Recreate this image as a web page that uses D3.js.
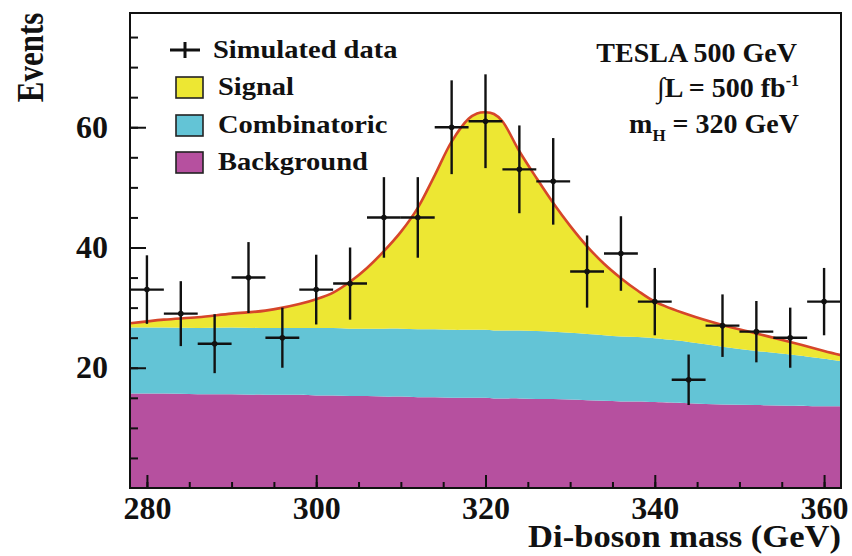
<!DOCTYPE html>
<html>
<head>
<meta charset="utf-8">
<script src="https://cdn.jsdelivr.net/npm/d3@7"></script>
<style>
  html, body { margin: 0; padding: 0; background: #ffffff; }
  svg { display: block; }
  text { font-family: "Liberation Serif", "Times New Roman", serif; font-weight: bold; fill: #111; }
</style>
</head>
<body>
<svg id="chart" width="852" height="556"></svg>
<script>
// Fitted components, stacked bottom to top (events per 4 GeV bin)
const massGrid = [278,282,286,290,294,298,300,302,304,306,308,310,312,314,316,318,319,320,321,322,324,326,328,330,332,334,336,338,340,344,348,352,356,360,362];
const background = [15.7,15.7,15.6,15.6,15.5,15.5,15.4,15.4,15.3,15.3,15.2,15.2,15.1,15.1,15.0,15.0,15.0,15.0,14.9,14.9,14.9,14.8,14.8,14.7,14.6,14.5,14.4,14.4,14.3,14.1,13.9,13.8,13.7,13.6,13.6];
const combinatoric = [11.0,11.0,11.0,11.1,11.1,11.1,11.2,11.2,11.2,11.2,11.3,11.3,11.3,11.3,11.3,11.3,11.3,11.3,11.3,11.3,11.3,11.3,11.2,11.1,11.0,10.9,10.8,10.7,10.6,10.2,9.6,9.0,8.5,7.9,7.5];
const signal = [0.7,1.3,1.8,2.3,2.9,4.0,4.8,5.9,7.8,10.1,12.9,16.1,20.2,25.6,31.3,35.1,36.0,36.2,36.0,34.8,29.8,25.5,21.4,17.8,14.6,11.9,9.7,7.7,6.1,4.5,3.6,2.9,2.1,1.3,1.0];

// Simulated data: bin centres, counts and statistical errors
const dataMass = [280,284,288,292,296,300,304,308,312,316,320,324,328,332,336,340,344,348,352,356,360];
const dataEvents = [33,29,24,35,25,33,34,45,45,60,61,53,51,36,39,31,18,27,26,25,31];
const dataError = [5.7,5.4,4.9,5.9,5.0,5.8,6.0,6.7,6.7,7.8,7.8,7.3,7.2,6.0,6.2,5.6,4.2,5.2,5.1,5.0,5.6];
const binHalfWidth = 2;

const xMajorTicks = [280,300,320,340,360];
const yMajorTicks = [20,40,60];
const components = ["background","combinatoric","signal"];
const legendLabels = ["Simulated data","Signal","Combinatoric","Background"];
const colors = { background: "#b6509f", combinatoric: "#63c4d6", signal: "#ede733", fit: "#d6462a" };

const svg = d3.select("#chart");
const L = 130, R = 841, T = 13, B = 488;

const x = d3.scaleLinear().domain([278, 362]).range([L, R]);
const y = d3.scaleLinear().domain([0, 79]).range([B, T]);

const rows = massGrid.map((m, i) => ({ mass: m, background: background[i], combinatoric: combinatoric[i], signal: signal[i] }));
const stacked = d3.stack().keys(components)(rows);

svg.append("defs").append("clipPath").attr("id", "plotclip")
  .append("rect").attr("x", L).attr("y", T).attr("width", R - L).attr("height", B - T);

const plot = svg.append("g").attr("clip-path", "url(#plotclip)");

const area = d3.area()
  .x(d => x(d.data.mass))
  .y0(d => y(d[0]))
  .y1(d => y(d[1]))
  .curve(d3.curveCatmullRom);

plot.selectAll("path.layer").data(stacked).join("path")
  .attr("class", "layer")
  .attr("d", area)
  .attr("fill", d => colors[d.key]);

// total fit curve
const totalLayer = stacked[stacked.length - 1];
plot.append("path")
  .attr("d", d3.line().x(d => x(d.data.mass)).y(d => y(d[1])).curve(d3.curveCatmullRom)(totalLayer))
  .attr("fill", "none").attr("stroke", colors.fit).attr("stroke-width", 2.6);

// data points with error bars
const pts = dataMass.map((m, i) => ({ m, v: dataEvents[i], e: dataError[i] }));
const dp = svg.append("g").attr("stroke", "#111").attr("stroke-width", 2.4);
dp.selectAll("line.v").data(pts).join("line").attr("class", "v")
  .attr("x1", d => x(d.m)).attr("x2", d => x(d.m))
  .attr("y1", d => y(d.v - d.e)).attr("y2", d => y(d.v + d.e));
dp.selectAll("line.h").data(pts).join("line").attr("class", "h")
  .attr("x1", d => x(d.m - binHalfWidth)).attr("x2", d => x(d.m + binHalfWidth))
  .attr("y1", d => y(d.v)).attr("y2", d => y(d.v));
svg.append("g").selectAll("circle").data(pts).join("circle")
  .attr("cx", d => x(d.m)).attr("cy", d => y(d.v)).attr("r", 2.8).attr("fill", "#111");

// axes (ticks pointing inward)
const xMinor = d3.range(280, 361, 5);
const yMinor = d3.range(5, 79, 5);
const ax = svg.append("g").attr("transform", `translate(0,${B})`);
ax.call(d3.axisBottom(x).tickValues(xMinor).tickSize(-6).tickFormat(""));
const axM = svg.append("g").attr("transform", `translate(0,${B})`);
axM.call(d3.axisBottom(x).tickValues(xMajorTicks).tickSize(-13).tickPadding(8).tickFormat(d3.format("d")));
const ay = svg.append("g").attr("transform", `translate(${L},0)`);
ay.call(d3.axisLeft(y).tickValues(yMinor).tickSize(-8).tickFormat(""));
const ayM = svg.append("g").attr("transform", `translate(${L},0)`);
ayM.call(d3.axisLeft(y).tickValues(yMajorTicks).tickSize(-16).tickPadding(22).tickFormat(d3.format("d")));
svg.selectAll(".domain").remove();
svg.selectAll(".tick line").attr("stroke", "#111").attr("stroke-width", 2);
axM.selectAll("text").attr("font-size", 32).attr("font-family", "Liberation Serif").attr("font-weight", "bold").attr("fill", "#111");
ayM.selectAll("text").attr("font-size", 32).attr("font-family", "Liberation Serif").attr("font-weight", "bold").attr("fill", "#111");

// frame
svg.append("rect").attr("x", L).attr("y", T).attr("width", R - L).attr("height", B - T)
  .attr("fill", "none").attr("stroke", "#111").attr("stroke-width", 2);

// axis titles
svg.append("text").attr("text-anchor", "end").attr("font-size", 32)
  .attr("transform", `translate(${R},547) scale(1.08,1)`).text("Di-boson mass (GeV)");
svg.append("text").attr("text-anchor", "middle").attr("font-size", 31)
  .attr("transform", "translate(43,57.5) scale(1.2,1) rotate(-90)").text("Events");

// legend
const lg = svg.append("g");
lg.append("g").attr("stroke", "#111").attr("stroke-width", 3)
  .call(g => {
    g.append("line").attr("x1", 170).attr("x2", 200).attr("y1", 50).attr("y2", 50);
    g.append("line").attr("x1", 185).attr("x2", 185).attr("y1", 42).attr("y2", 58);
  });
const swatchKeys = ["signal", "combinatoric", "background"];
const swatchY = [77, 115, 152];
swatchKeys.forEach((k, i) => {
  lg.append("rect").attr("x", 176).attr("y", swatchY[i]).attr("width", 27).attr("height", 21)
    .attr("fill", colors[k]).attr("stroke", "#222").attr("stroke-width", 1.6);
});
const legendX = [213, 218, 218, 218];
const legendBase = [58, 95, 133, 170];
legendLabels.forEach((t, i) => {
  lg.append("text").attr("font-size", 25)
    .attr("transform", `translate(${legendX[i]},${legendBase[i]}) scale(1.14,1)`).text(t);
});

// run info
const info = svg.append("g").attr("text-anchor", "end");
info.append("text").attr("font-size", 28).attr("transform", "translate(797,62)").text("TESLA 500 GeV");
const lum = info.append("text").attr("font-size", 28).attr("transform", "translate(799,97)");
lum.append("tspan").text("\u222BL = 500 fb");
lum.append("tspan").attr("font-size", 16).attr("dy", -11).text("-1");
const mh = info.append("text").attr("font-size", 28).attr("transform", "translate(799,133)");
mh.append("tspan").text("m");
mh.append("tspan").attr("font-size", 17).attr("dy", 8).text("H");
mh.append("tspan").attr("dy", -8).text(" = 320 GeV");
</script>
</body>
</html>
